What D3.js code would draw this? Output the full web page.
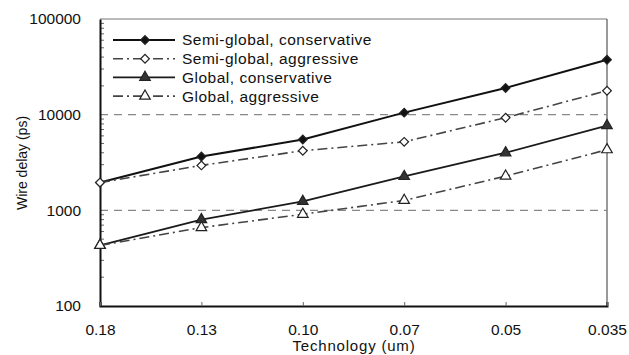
<!DOCTYPE html>
<html lang="en">
<head>
    <meta charset="UTF-8">
    <title>Wire delay vs technology</title>
    <script src="https://d3js.org/d3.v7.min.js"></script>
    <style>
        body {
            margin: 0;
            background: #fff;
            font-family: Arial, "Liberation Sans", sans-serif;
        }
        svg {
            display: block;
        }
    </style>
</head>
<body>
<svg width="629" height="355"></svg>
<script>
    // data
    const technologies = ["0.18", "0.13", "0.10", "0.07", "0.05", "0.035"];
    const semiConservative = [1950, 3650, 5500, 10500, 19000, 37500];
    const semiAggressive = [1950, 2950, 4200, 5200, 9300, 17800];
    const globalConservative = [430, 800, 1240, 2260, 4000, 7700];
    const globalAggressive = [430, 660, 910, 1270, 2280, 4300];
    const yTicks = [100, 1000, 10000, 100000];
    const refLines = [1000, 10000];

    const series = [
        { name: "Semi-global, conservative", values: semiConservative, dash: null, marker: "diamond", fill: "#111", color: "#111", width: 2 },
        { name: "Semi-global, aggressive", values: semiAggressive, dash: "10,4,2,4", marker: "diamond", fill: "#fff", color: "#444", width: 1.6 },
        { name: "Global, conservative", values: globalConservative, dash: null, marker: "triangle", fill: "#333", color: "#1a1a1a", width: 1.8 },
        { name: "Global, aggressive", values: globalAggressive, dash: "10,4,2,4", marker: "triangle", fill: "#fff", color: "#444", width: 1.6 }
    ];

    const svg = d3.select("svg"),
        margin = { top: 19, right: 22, bottom: 49, left: 100 },
        width = 629 - margin.left - margin.right,
        height = 355 - margin.top - margin.bottom;

    const x = d3.scalePoint().domain(technologies).range([0, width]);
    const y = d3.scaleLog().domain([100, 100000]).range([height, 0]);

    const g = svg.append("g").attr("transform", `translate(${margin.left},${margin.top})`);

    // top / right frame
    g.append("line").attr("x1", 0).attr("x2", width).attr("y1", 0).attr("y2", 0)
        .attr("stroke", "#777").attr("stroke-width", 1.2);
    g.append("line").attr("x1", width).attr("x2", width).attr("y1", 0).attr("y2", height)
        .attr("stroke", "#555").attr("stroke-width", 1.2);

    // dashed reference lines
    g.selectAll(".ref")
        .data(refLines)
        .enter().append("line")
        .attr("class", "ref")
        .attr("x1", 0).attr("x2", width)
        .attr("y1", d => y(d)).attr("y2", d => y(d))
        .attr("stroke", "#888").attr("stroke-width", 1.3)
        .attr("stroke-dasharray", "8,6");

    // y axis with inward minor ticks
    const minor = [];
    [100, 1000, 10000].forEach(b => { for (let k = 2; k <= 9; k++) minor.push(b * k); });
    g.selectAll(".minor")
        .data(minor)
        .enter().append("line")
        .attr("x1", 0).attr("x2", 4)
        .attr("y1", d => y(d)).attr("y2", d => y(d))
        .attr("stroke", "#666").attr("stroke-width", 1);

    const yAxis = g.append("g")
        .call(d3.axisLeft(y).tickValues(yTicks).tickFormat(d3.format("d")).tickSize(0).tickPadding(19));
    yAxis.select(".domain").attr("stroke", "#111").attr("stroke-width", 2);
    yAxis.selectAll("text").attr("font-size", 15.5).attr("font-family", "Arial, sans-serif").attr("fill", "#111");

    const xAxis = g.append("g")
        .attr("transform", `translate(0,${height})`)
        .call(d3.axisBottom(x).tickSize(-4).tickPadding(18));
    xAxis.select(".domain").attr("stroke", "#111").attr("stroke-width", 2);
    xAxis.selectAll(".tick line").attr("stroke", "#666");
    xAxis.selectAll("text").attr("font-size", 15.5).attr("font-family", "Arial, sans-serif").attr("fill", "#111");

    // axis titles
    svg.append("text")
        .attr("x", 354)
        .attr("y", 351)
        .attr("text-anchor", "middle")
        .attr("font-size", 15)
        .attr("letter-spacing", 0.8)
        .attr("fill", "#111")
        .text("Technology (um)");
    svg.append("text")
        .attr("transform", "rotate(-90)")
        .attr("x", -163)
        .attr("y", 27)
        .attr("text-anchor", "middle")
        .attr("font-size", 14)
        .attr("fill", "#111")
        .text("Wire delay (ps)");

    const diamond = d3.symbol().type(d3.symbolSquare).size(38);
    const triangle = d3.symbol().type(d3.symbolTriangle).size(48);

    function drawMarker(sel, s) {
        sel.append("path")
            .attr("d", s.marker === "diamond" ? diamond() : triangle())
            .attr("transform", s.marker === "diamond" ? "rotate(45)" : null)
            .attr("fill", s.fill)
            .attr("stroke", "#222")
            .attr("stroke-width", 1.2);
    }

    const line = d3.line()
        .x((d, i) => x(technologies[i]))
        .y(d => y(d));

    series.forEach(s => {
        g.append("path")
            .datum(s.values)
            .attr("d", line)
            .attr("fill", "none")
            .attr("stroke", s.color)
            .attr("stroke-width", s.width)
            .attr("stroke-dasharray", s.dash);
        s.values.forEach((v, i) => {
            const m = g.append("g").attr("transform", `translate(${x(technologies[i])},${y(v)})`);
            drawMarker(m, s);
        });
    });

    // legend
    const legend = g.append("g").attr("transform", "translate(13,21)");
    series.forEach((s, i) => {
        const row = legend.append("g").attr("transform", `translate(0,${i * 18.7})`);
        row.append("line")
            .attr("x1", 0).attr("x2", 62)
            .attr("stroke", s.color)
            .attr("stroke-width", s.width)
            .attr("stroke-dasharray", s.dash);
        const m = row.append("g").attr("transform", "translate(32,0)");
        drawMarker(m, s);
        row.append("text")
            .attr("x", 69)
            .attr("dy", "0.35em")
            .attr("font-size", 15.5)
            .attr("letter-spacing", 0.5)
            .attr("fill", "#111")
            .text(s.name);
    });
</script>
</body>
</html>
